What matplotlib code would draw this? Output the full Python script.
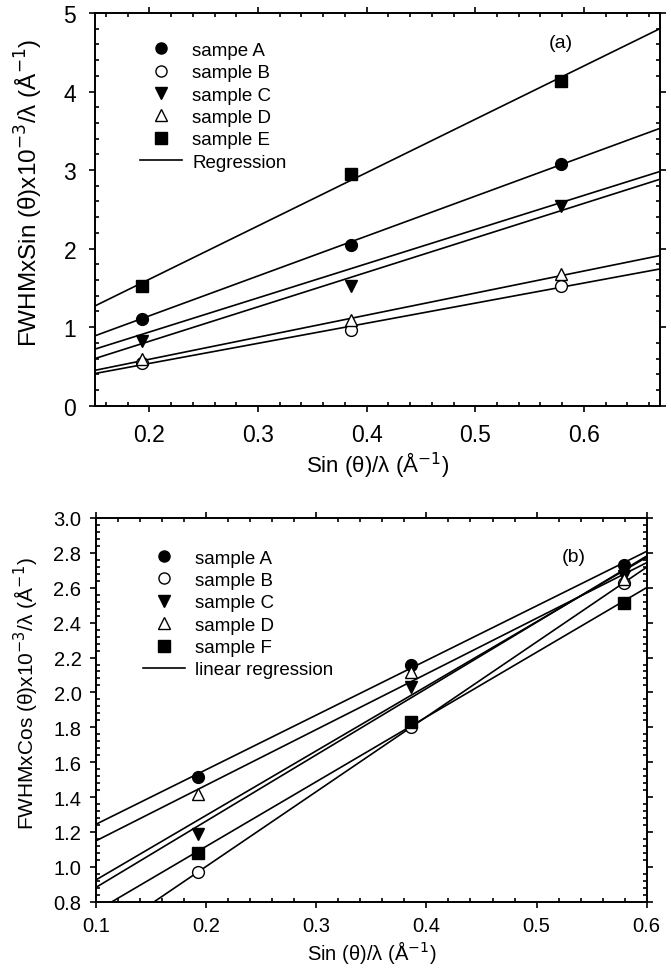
import matplotlib
matplotlib.use("Agg")
import matplotlib.pyplot as plt
import numpy as np
from matplotlib.lines import Line2D
from matplotlib.ticker import MultipleLocator, FormatStrFormatter

plt.rcParams["font.family"] = ["Liberation Sans", "DejaVu Sans"]

# ---------------------------------------------------------------- data (a)
x_pts = [0.193, 0.386, 0.579]
a_labels = ["sampe A", "sample B", "sample C", "sample D", "sample E"]
a_y = {
    "sampe A": [1.11, 2.05, 3.08],
    "sample B": [0.54, 0.97, 1.52],
    "sample C": [0.83, 1.52, 2.54],
    "sample D": [0.60, 1.09, 1.68],
    "sample E": [1.52, 2.95, 4.14],
}
# regression lines (slope, intercept)
a_slope = [6.79, 5.08, 4.35, 4.39, 2.81, 2.56]
a_icept = [0.252, 0.128, 0.068, -0.058, 0.029, 0.026]

# ---------------------------------------------------------------- data (b)
b_labels = ["sample A", "sample B", "sample C", "sample D", "sample F"]
b_y = {
    "sample A": [1.515, 2.157, 2.729],
    "sample B": [0.973, 1.80, 2.628],
    "sample C": [1.19, 2.03, 2.666],
    "sample D": [1.416, 2.116, 2.65],
    "sample F": [1.078, 1.83, 2.51],
}
b_slope = [3.13, 3.19, 3.70, 3.80, 3.71, 4.29]
b_icept = [0.931, 0.830, 0.555, 0.502, 0.375, 0.144]

STYLE = [
    dict(marker="o", mfc="k", mec="k"),
    dict(marker="o", mfc="white", mec="k"),
    dict(marker="v", mfc="k", mec="k"),
    dict(marker="^", mfc="white", mec="k"),
    dict(marker="s", mfc="k", mec="k"),
]


def _style_axes(ax, xmaj, xmin, ymaj, ymin, fs):
    ax.xaxis.set_major_locator(MultipleLocator(xmaj))
    ax.xaxis.set_minor_locator(MultipleLocator(xmin))
    ax.yaxis.set_major_locator(MultipleLocator(ymaj))
    ax.yaxis.set_minor_locator(MultipleLocator(ymin))
    ax.tick_params(which="both", top=True, right=True, width=1.2)
    ax.tick_params(which="major", direction="out", length=4.5, labelsize=fs, pad=6)
    ax.tick_params(which="minor", direction="in", length=3)
    for s in ax.spines.values():
        s.set_linewidth(1.4)


def _panel(ax, labels, ys, slopes, icepts, xlim, reg_label):
    xx = np.array(xlim)
    for m, b in zip(slopes, icepts):
        ax.plot(xx, m * xx + b, color="k", lw=1.2, zorder=2)
    handles = []
    for lab, st in zip(labels, STYLE):
        ax.plot(x_pts, ys[lab], ls="none", ms=8.5, mew=1.0, zorder=3, **st)
        handles.append(Line2D([], [], ls="none", ms=8, mew=1.0, label=lab, **st))
    handles.append(Line2D([], [], color="k", lw=1.2, label=reg_label))
    ax.set_xlim(*xlim)
    return handles


fig = plt.figure(figsize=(6.71, 9.70), dpi=100)

# ---------------------------------------------------------------- panel (a)
ax1 = fig.add_axes([95 / 671, 1 - 406.7 / 970, 565 / 671, 392.7 / 970])
h1 = _panel(ax1, a_labels, a_y, a_slope, a_icept, (0.15, 0.67), "Regression")
ax1.set_ylim(0, 5)
_style_axes(ax1, 0.1, 0.02, 1, 0.2, 16.5)
ax1.tick_params(which="major", axis="x", pad=8)
ax1.tick_params(which="major", axis="y", pad=9)
ax1.set_xticks([0.2, 0.3, 0.4, 0.5, 0.6])
ax1.set_xlabel("Sin (θ)/λ (Å$^{-1}$)", fontsize=16)
ax1.set_ylabel("FWHMxSin (θ)x10$^{-3}$/λ (Å$^{-1}$)", fontsize=17.5)
ax1.xaxis.set_label_coords(0.5, -0.112)
ax1.yaxis.set_label_coords(-0.088, 0.545)
ax1.text(0.579, 4.63, "(a)", fontsize=14, ha="center", va="center")
ax1.legend(handles=h1, loc="upper left", bbox_to_anchor=(0.08, 0.927),
           frameon=False, fontsize=13.5, handlelength=2.24, handletextpad=0.53,
           labelspacing=0.28, borderpad=0, borderaxespad=0)

# ---------------------------------------------------------------- panel (b)
ax2 = fig.add_axes([96 / 671, 1 - 902.7 / 970, 550.7 / 671, 383.7 / 970])
h2 = _panel(ax2, b_labels, b_y, b_slope, b_icept, (0.1, 0.6), "linear regression")
ax2.set_ylim(0.8, 3.0)
_style_axes(ax2, 0.1, 0.02, 0.2, 0.04, 14.5)
ax2.yaxis.set_major_formatter(FormatStrFormatter("%.1f"))
ax2.set_xlabel("Sin (θ)/λ (Å$^{-1}$)", fontsize=14.5)
ax2.set_ylabel("FWHMxCos (θ)x10$^{-3}$/λ (Å$^{-1}$)", fontsize=15)
ax2.xaxis.set_label_coords(0.5, -0.095)
ax2.yaxis.set_label_coords(-0.1, 0.545)
ax2.text(0.534, 2.78, "(b)", fontsize=14, ha="center", va="center")
ax2.legend(handles=h2, loc="upper left", bbox_to_anchor=(0.085, 0.918),
           frameon=False, fontsize=13.5, handlelength=2.24, handletextpad=0.53,
           labelspacing=0.28, borderpad=0, borderaxespad=0)

fig.savefig("out.png", dpi=100)
plt.close(fig)
